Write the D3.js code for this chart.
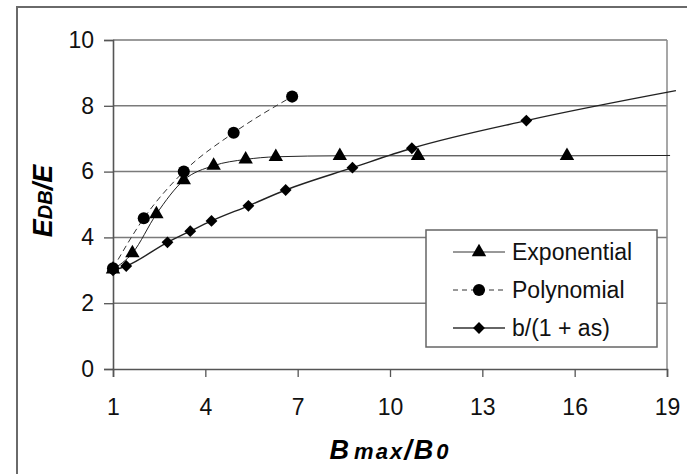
<!DOCTYPE html>
<html>
<head>
<meta charset="utf-8">
<script src="https://cdn.jsdelivr.net/npm/d3@7"></script>
<style>
  html, body { margin: 0; padding: 0; background: #fff; }
  svg { display: block; font-family: "Liberation Sans", Arial, sans-serif; }
</style>
</head>
<body>
<svg id="chart" width="687" height="474"></svg>
<script>
// Axis ticks
const xTicks = [1, 4, 7, 10, 13, 16, 19];
const yTicks = [0, 2, 4, 6, 8, 10];

// Exponential fit: measured points and the fitted curve
const expX = [1, 1.63, 2.41, 3.30, 4.27, 5.31, 6.29, 8.37, 10.91, 15.75];
const expY = [3.03, 3.52, 4.71, 5.74, 6.18, 6.37, 6.45, 6.48, 6.48, 6.48];
const expCurveX = [1, 1.63, 2.41, 3.30, 4.27, 5.31, 6.29, 8.37, 10.91, 15.75, 19.1];
const expCurveY = [3.03, 3.52, 4.71, 5.74, 6.18, 6.37, 6.45, 6.48, 6.48, 6.48, 6.49];

// Polynomial fit
const polyX = [1, 2.0, 3.30, 4.92, 6.82];
const polyY = [3.06, 4.58, 6.0, 7.18, 8.28];

// b/(1 + as) fit: points and curve (curve runs a little past the frame)
const ratX = [1, 1.43, 2.77, 3.51, 4.20, 5.40, 6.61, 8.78, 10.71, 14.43];
const ratY = [3.0, 3.13, 3.85, 4.19, 4.50, 4.96, 5.44, 6.12, 6.71, 7.55];
const ratCurveX = [1, 1.43, 2.77, 3.51, 4.20, 5.40, 6.61, 8.78, 10.71, 14.43, 19.29];
const ratCurveY = [3.0, 3.13, 3.85, 4.19, 4.50, 4.96, 5.44, 6.12, 6.71, 7.55, 8.46];

const legendLabels = ["Exponential", "Polynomial", "b/(1 + as)"];

const svg = d3.select("#chart");
const plotLeft = 113, plotRight = 667, plotTop = 40, plotBottom = 369;

const x = d3.scaleLinear().domain([1, 19]).range([plotLeft, plotRight]);
const y = d3.scaleLinear().domain([0, 10]).range([plotBottom, plotTop]);

// outer frame (top and left edges)
svg.append("path")
  .attr("d", `M17,474 L17,7 L687,7`)
  .attr("fill", "none").attr("stroke", "#6a6a6a").attr("stroke-width", 2);

// horizontal gridlines
svg.append("g").selectAll("line").data(yTicks.filter(d => d > 0)).join("line")
  .attr("x1", plotLeft).attr("x2", plotRight)
  .attr("y1", d => y(d)).attr("y2", d => y(d))
  .attr("stroke", "#7a7a7a").attr("stroke-width", 1.5);

// right edge of plot area
svg.append("line")
  .attr("x1", plotRight).attr("x2", plotRight).attr("y1", plotTop).attr("y2", plotBottom)
  .attr("stroke", "#8a8a8a").attr("stroke-width", 1.5);

// y axis
const yAxis = svg.append("g").attr("transform", `translate(${plotLeft},0)`)
  .call(d3.axisLeft(y).tickValues(yTicks).tickSize(9).tickPadding(10).tickFormat(d3.format("d")));
// x axis
const xAxis = svg.append("g").attr("transform", `translate(0,${plotBottom})`)
  .call(d3.axisBottom(x).tickValues(xTicks).tickSize(8).tickPadding(22).tickFormat(d3.format("d")));

[yAxis, xAxis].forEach(g => {
  g.select(".domain").attr("stroke", "#555").attr("stroke-width", 1.6);
  g.selectAll(".tick line").attr("stroke", "#555").attr("stroke-width", 1.3);
  g.selectAll(".tick text").attr("fill", "#111")
    .style("font-size", "23px").style("font-family", "'Liberation Sans', Arial, sans-serif");
});

const line = d3.line().x(d => x(d[0])).y(d => y(d[1])).curve(d3.curveMonotoneX);
const zip = (a, b) => a.map((v, i) => [v, b[i]]);

// fitted lines
svg.append("path").datum(zip(expCurveX, expCurveY)).attr("d", line)
  .attr("fill", "none").attr("stroke", "#222").attr("stroke-width", 1);
svg.append("path").datum(zip(polyX, polyY)).attr("d", line)
  .attr("fill", "none").attr("stroke", "#333").attr("stroke-width", 1)
  .attr("stroke-dasharray", "6,4");
svg.append("path").datum(zip(ratCurveX, ratCurveY)).attr("d", line)
  .attr("fill", "none").attr("stroke", "#222").attr("stroke-width", 1.4);

// markers; the diamond is a square turned 45 degrees
const tri = d3.symbol().type(d3.symbolTriangle).size(90);
const circ = d3.symbol().type(d3.symbolCircle).size(115);
const diam = d3.symbol().type(d3.symbolSquare).size(70);

svg.append("g").selectAll("path").data(zip(ratX, ratY)).join("path")
  .attr("d", diam).attr("transform", d => `translate(${x(d[0])},${y(d[1])}) rotate(45)`).attr("fill", "#000");
svg.append("g").selectAll("path").data(zip(expX, expY)).join("path")
  .attr("d", tri).attr("transform", d => `translate(${x(d[0])},${y(d[1])})`).attr("fill", "#000");
svg.append("g").selectAll("path").data(zip(polyX, polyY)).join("path")
  .attr("d", circ).attr("transform", d => `translate(${x(d[0])},${y(d[1])})`).attr("fill", "#000");

// legend
const lg = svg.append("g");
lg.append("rect").attr("x", 426).attr("y", 230).attr("width", 231).attr("height", 117)
  .attr("fill", "#fff").attr("stroke", "#666").attr("stroke-width", 1.5);
const symbols = [tri, circ, diam];
const rotations = ["", "", " rotate(45)"];
const dashes = [null, "5,4", null];
const widths = [1, 1, 1.6];
legendLabels.forEach((lab, i) => {
  const cy = 252 + i * 38;
  lg.append("line").attr("x1", 453).attr("x2", 505).attr("y1", cy).attr("y2", cy)
    .attr("stroke", "#333").attr("stroke-width", widths[i])
    .attr("stroke-dasharray", dashes[i]);
  lg.append("path").attr("d", symbols[i]).attr("transform", `translate(479,${cy})${rotations[i]}`).attr("fill", "#000");
  lg.append("text").attr("x", 512).attr("y", cy).attr("dy", "0.35em")
    .style("font-size", "23px").attr("fill", "#111").text(lab);
});

// axis titles
const xt = svg.append("text").attr("x", 390).attr("y", 459).attr("text-anchor", "middle")
  .style("font-weight", "bold").style("font-style", "italic").attr("fill", "#000")
  .style("letter-spacing", "2px");
xt.append("tspan").style("font-size", "27px").text("B");
xt.append("tspan").style("font-size", "22px").attr("dx", 3).text("max");
xt.append("tspan").style("font-size", "27px").text("/");
xt.append("tspan").style("font-size", "27px").text("B");
xt.append("tspan").style("font-size", "22px").attr("dx", 1).text("0");

const yt = svg.append("text").attr("transform", "translate(52,201) rotate(-90)")
  .attr("text-anchor", "middle")
  .style("font-weight", "bold").style("font-style", "italic").attr("fill", "#000");
yt.append("tspan").style("font-size", "27px").text("E");
yt.append("tspan").style("font-size", "20px").text("DB");
yt.append("tspan").style("font-size", "27px").text("/E");
</script>
</body>
</html>
